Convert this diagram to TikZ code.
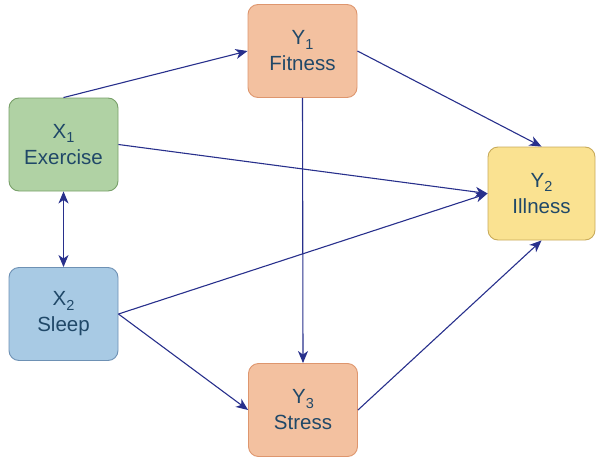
\documentclass[tikz,border=0pt]{standalone}
\usepackage{fontspec}
\setmainfont{Liberation Sans}
\usetikzlibrary{arrows.meta}

\definecolor{linkblue}{RGB}{40,48,140}
\definecolor{txtblue}{RGB}{32,72,104}
\definecolor{greenfill}{RGB}{176,210,164}
\definecolor{greendraw}{RGB}{120,160,105}
\definecolor{orangefill}{RGB}{243,193,160}
\definecolor{orangedraw}{RGB}{222,150,110}
\definecolor{yellowfill}{RGB}{250,226,145}
\definecolor{yellowdraw}{RGB}{200,170,90}
\definecolor{bluefill}{RGB}{168,202,228}
\definecolor{bluedraw}{RGB}{110,145,180}

\newcommand{\vsub}[1]{\raisebox{-0.4ex}{\fontsize{14.5}{14.5}\selectfont #1}}

\tikzstyle{varbox} = [rectangle,rounded corners=10pt,minimum width=109pt,minimum height=93pt,
  line width=0.9pt,align=center,text=txtblue,font=\fontsize{20.5}{26}\selectfont]
\tikzstyle{arrow} = [line width=1.1pt,linkblue,-{Stealth[length=12pt,width=10pt,inset=3.5pt]}]
\tikzstyle{arrowb} = [line width=1.1pt,linkblue,{Stealth[length=12pt,width=10pt,inset=3.5pt]}-{Stealth[length=12pt,width=10pt,inset=3.5pt]}]

\begin{document}
\begin{tikzpicture}[x=1pt,y=-1pt]

\useasboundingbox (0,0) rectangle (596,460);

% Boxes
\node [varbox,fill=greenfill,draw=greendraw] (exercise) at (63.5,144.5) {X\vsub{1}\\Exercise};
\node [varbox,fill=bluefill,draw=bluedraw] (sleep) at (63.5,314) {X\vsub{2}\\Sleep};
\node [varbox,fill=orangefill,draw=orangedraw] (fitness) at (302.5,51) {Y\vsub{1}\\Fitness};
\node [varbox,fill=orangefill,draw=orangedraw] (stress) at (303,410) {Y\vsub{3}\\Stress};
\node [varbox,fill=yellowfill,draw=yellowdraw,minimum width=107pt] (illness) at (541.5,193.5) {Y\vsub{2}\\Illness};

% arrows
\draw [arrow] (exercise.north) -- (fitness.west);
\draw [arrow] (exercise.east) -- (illness.west);
\draw [arrowb] (exercise.south) -- (sleep.north);
\draw [arrow] (sleep.east) -- (illness.west);
\draw [arrow] (sleep.east) -- (stress.west);
\draw [arrow] (fitness.east) -- (illness.north);
\draw [arrow] (fitness.south) -- (stress.north);
\draw [arrow] (stress.east) -- (illness.south);

\end{tikzpicture}
\end{document}
